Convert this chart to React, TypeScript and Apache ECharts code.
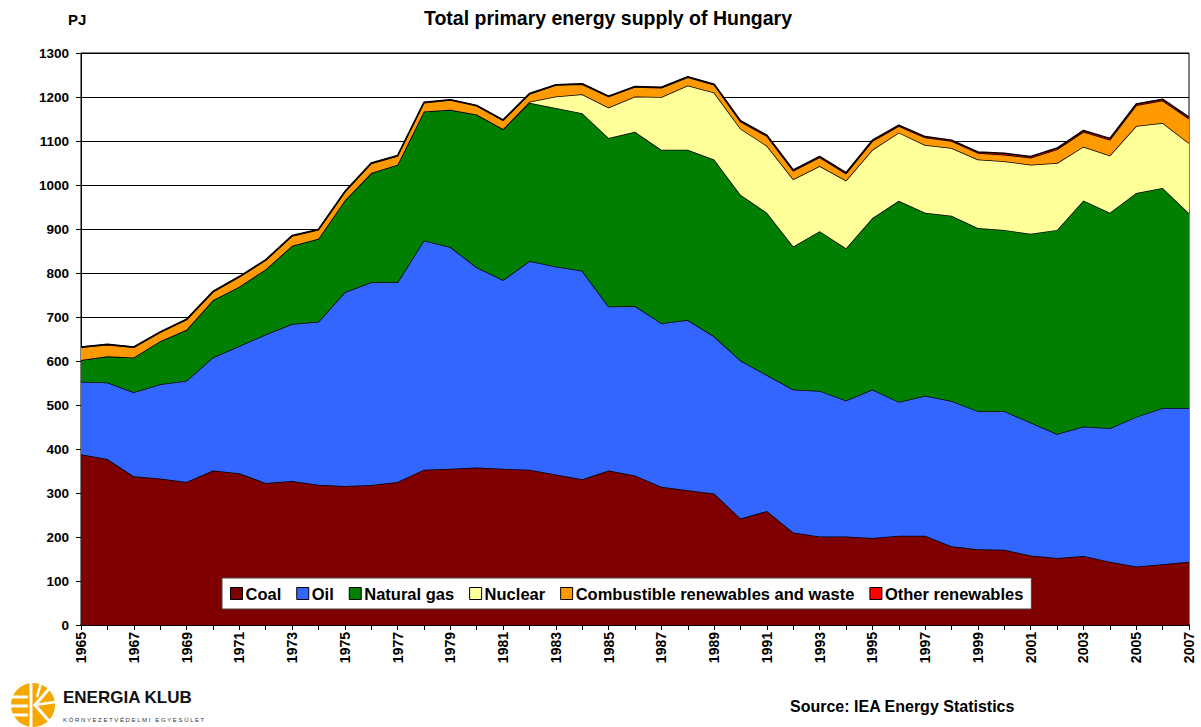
import React, { useEffect, useRef } from "react";
import * as echarts from "echarts";

const years = ["1965","1966","1967","1968","1969","1970","1971","1972","1973","1974","1975","1976","1977","1978","1979","1980","1981","1982","1983","1984","1985","1986","1987","1988","1989","1990","1991","1992","1993","1994","1995","1996","1997","1998","1999","2000","2001","2002","2003","2004","2005","2006","2007"];

const coal = [388,377,338,333,325,351,345,323,327,319,316,318,325,353,355,358,355,353,342,331,351,340,314,306,299,242,259,210,201,201,198,203,203,179,172,171,158,152,157,144,133,138,144];
const oil = [165,174,191,214,230,257,289,337,357,370,440,461,454,521,504,455,429,474,473,474,373,385,372,387,357,359,309,325,331,309,337,304,318,330,314,315,302,282,294,303,340,355,349];
const naturalGas = [49,60,79,98,116,130,135,148,178,189,209,248,267,293,312,347,343,360,360,358,383,396,394,387,402,377,369,325,363,346,390,457,416,421,416,412,429,464,514,490,509,500,443];
const nuclear = [0,0,0,0,0,0,0,0,0,0,0,0,0,0,0,0,0,2,26,43,69,80,120,146,152,150,152,153,148,154,155,155,154,154,156,156,157,152,122,130,152,148,159];
const combustible = [29,26,23,20,23,19,22,21,22,20,19,22,20,20,22,20,20,18,26,23,25,22,21,19,18,16,22,19,20,16,20,15,17,16,15,15,16,31,34,36,47,51,56];
const otherRenewables = [1,1,1,1,1,1,1,1,1,1,1,1,1,1,1,1,1,1,1,1,1,1,1,1,1,2,2,2,2,2,2,2,2,2,2,3,3,3,3,3,3,3,3];

const seriesNames = ["Coal","Oil","Natural gas","Nuclear","Combustible renewables and waste","Other renewables"];
const seriesColors = ["#7F0000","#3366FF","#007F00","#FFFF99","#FF9900","#FF0000"];
const seriesData = [coal, oil, naturalGas, nuclear, combustible, otherRenewables];

const FONT = "'Liberation Sans', Arial, Helvetica, sans-serif";

export default function App() {
  const ref = useRef<HTMLDivElement>(null);
  useEffect(() => {
    if (!ref.current) return;
    const chart = echarts.init(ref.current, null, { renderer: "svg" });
    const cx = 33, cy = 705, r = 22;
    chart.setOption({
      animation: false,
      backgroundColor: "#ffffff",
      textStyle: { fontFamily: FONT },
      grid: { left: 81, right: 12, top: 53, bottom: 102, show: true, borderColor: "#000", borderWidth: 1, backgroundColor: "transparent" },
      legend: {
        left: 222,
        top: 578,
        data: seriesNames,
        backgroundColor: "#ffffff",
        borderColor: "#444",
        borderWidth: 1,
        padding: [7, 8, 7, 8],
        itemWidth: 12,
        itemHeight: 12,
        itemGap: 15,
        icon: "rect",
        textStyle: { fontFamily: FONT, fontSize: 16.5, fontWeight: "bold", color: "#000", padding: [0, 0, 0, -2] },
        itemStyle: { borderColor: "#000", borderWidth: 1 },
      },
      xAxis: {
        type: "category",
        data: years,
        boundaryGap: false,
        axisLine: { lineStyle: { color: "#000", width: 1.5 } },
        axisTick: { show: true, interval: 0, length: 5, lineStyle: { color: "#000" } },
        axisLabel: { interval: 1, rotate: 90, fontFamily: FONT, fontSize: 14, fontWeight: "bold", color: "#000", margin: 7 },
        splitLine: { show: false },
      },
      yAxis: {
        type: "value",
        min: 0,
        max: 1300,
        interval: 100,
        axisLine: { show: true, lineStyle: { color: "#000", width: 1 } },
        axisTick: { show: true, length: 5, lineStyle: { color: "#000" } },
        axisLabel: { fontFamily: FONT, fontSize: 13.5, fontWeight: "bold", color: "#000", margin: 12, formatter: (v: number) => String(v) },
        splitLine: { show: true, lineStyle: { color: "#000", width: 1 } },
      },
      series: seriesNames.map((name, i) => ({
        name,
        type: "line",
        stack: "total",
        data: seriesData[i],
        symbol: "none",
        showSymbol: false,
        lineStyle: { color: "#000", width: 1.5 },
        itemStyle: { color: seriesColors[i], borderColor: "#000" },
        areaStyle: { color: seriesColors[i], opacity: 1 },
        z: 2 + i,
      })),
      graphic: [
        { type: "text", x: 68, y: 12, style: { text: "PJ", font: `bold 15px ${FONT}`, fill: "#000" } },
        { type: "text", x: 608, y: 8, style: { text: "Total primary energy supply of Hungary", font: `bold 19.5px ${FONT}`, fill: "#000", textAlign: "center" } },
        { type: "text", x: 790, y: 698, style: { text: "Source: IEA Energy Statistics", font: `bold 16px ${FONT}`, fill: "#000" } },
        {
          type: "group",
          children: [
            { type: "circle", shape: { cx, cy, r }, style: { fill: "#F7A800" } },
            { type: "line", shape: { x1: cx - 2, y1: cy - r, x2: cx - 2, y2: cy + r }, style: { stroke: "#fff", lineWidth: 3 } },
            { type: "line", shape: { x1: cx - r, y1: cy - 8, x2: cx - 5, y2: cy - 8 }, style: { stroke: "#fff", lineWidth: 3 } },
            { type: "line", shape: { x1: cx - r, y1: cy + 1, x2: cx - 5, y2: cy + 1 }, style: { stroke: "#fff", lineWidth: 3 } },
            { type: "line", shape: { x1: cx - r, y1: cy + 10, x2: cx - 5, y2: cy + 10 }, style: { stroke: "#fff", lineWidth: 3 } },
            { type: "polyline", shape: { points: [[cx + 16, cy - 16], [cx + 2, cy], [cx + 16, cy + 16]] }, style: { stroke: "#fff", lineWidth: 3, fill: "none" } },
            { type: "line", shape: { x1: cx + 2, y1: cy, x2: cx + r, y2: cy - 3 }, style: { stroke: "#fff", lineWidth: 2.5 } },
            { type: "line", shape: { x1: cx + 8, y1: cy - r, x2: cx + 4, y2: cy - 8 }, style: { stroke: "#fff", lineWidth: 2.5 } },
          ],
        },
        { type: "text", x: 63, y: 689, style: { text: "ENERGIA KLUB", font: `bold 17px ${FONT}`, fill: "#111" } },
        { type: "text", x: 63, y: 717, style: { text: "K Ö R N Y E Z E T V É D E L M I   E G Y E S Ü L E T", font: `6px ${FONT}`, fill: "#333" } },
      ],
    });
    return () => chart.dispose();
  }, []);
  return <div ref={ref} style={{ position: "fixed", left: 0, top: 0, width: 1201, height: 727 }} />;
}
